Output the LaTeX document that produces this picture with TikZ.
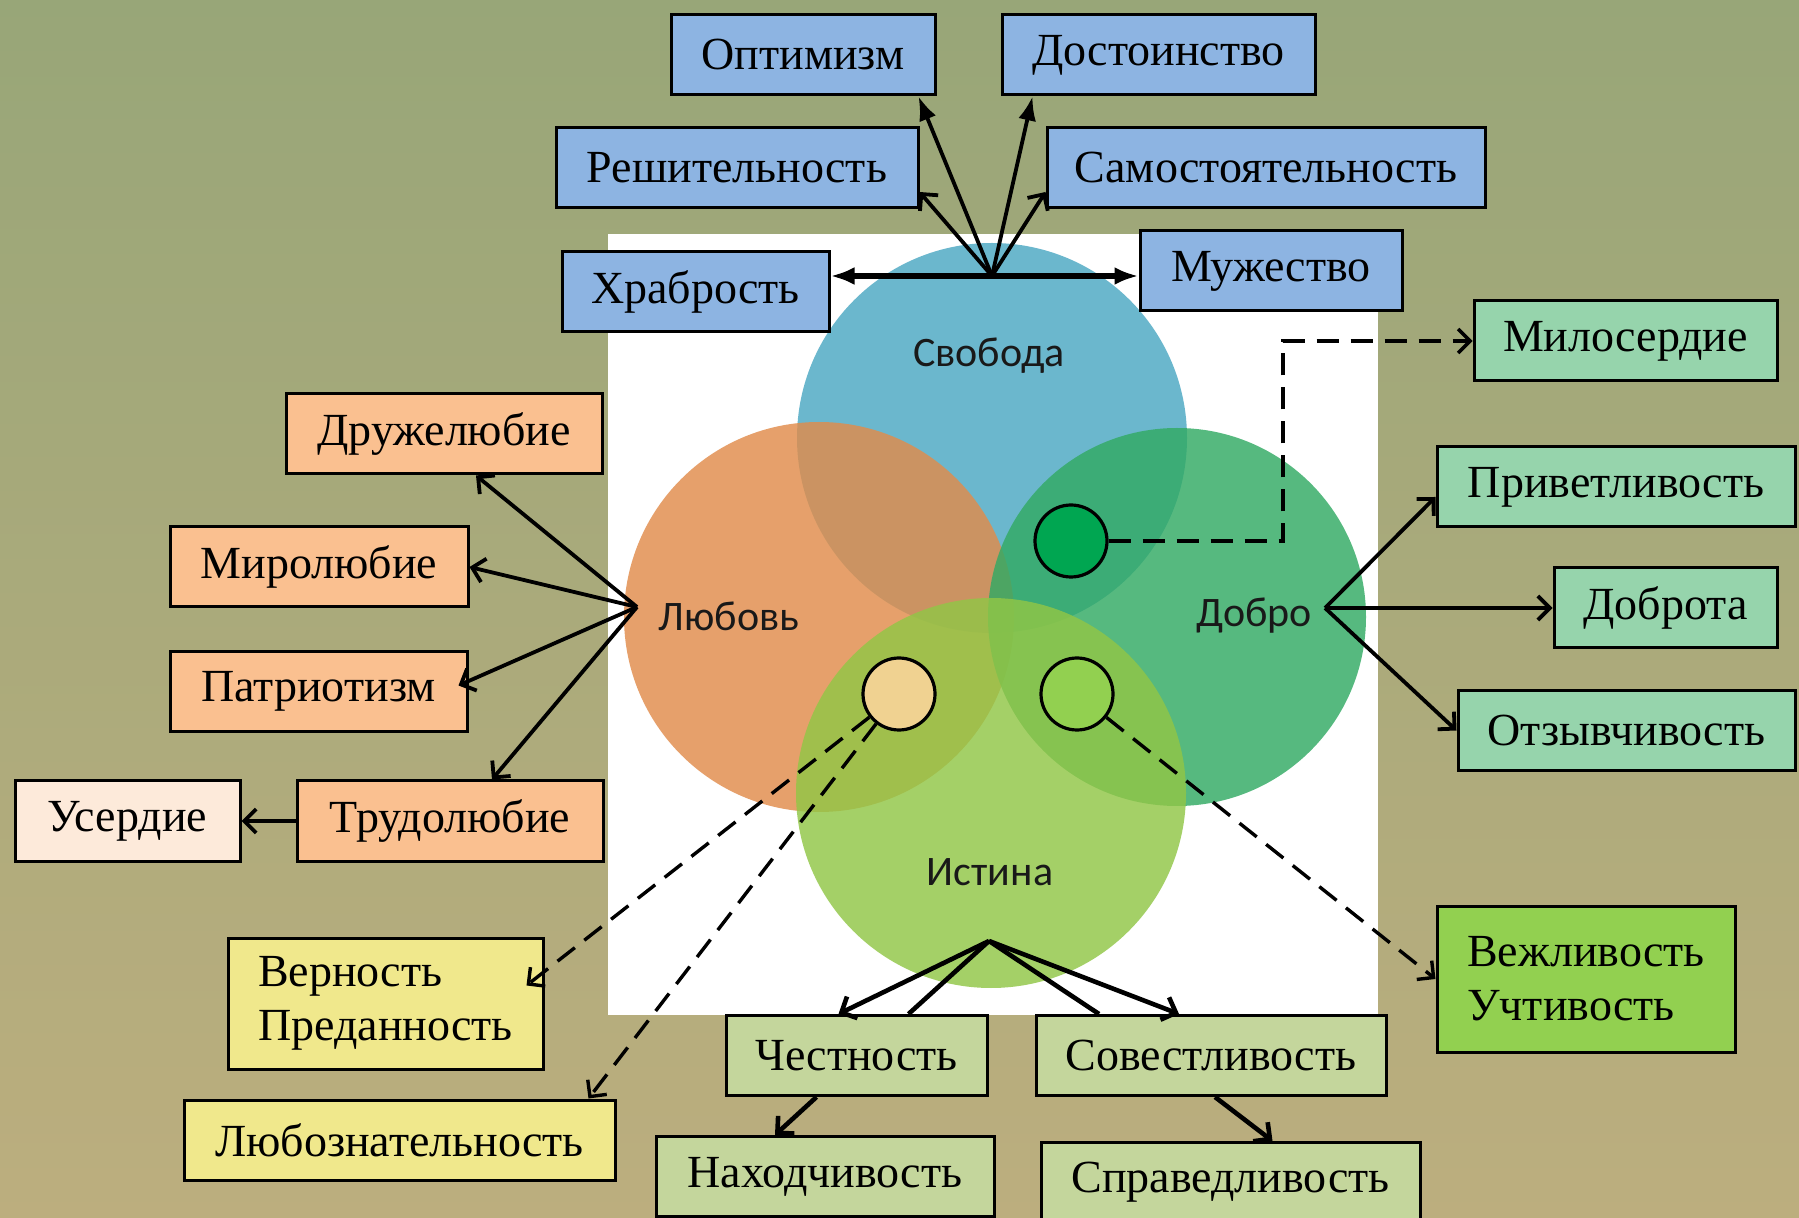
\documentclass[tikz,border=0pt]{standalone}
\usepackage{fontspec}
\setmainfont{Liberation Serif}
\newfontfamily\vennfont{Carlito}
\usetikzlibrary{positioning,arrows.meta}

\definecolor{bgTop}{RGB}{152,166,120}
\definecolor{bgBot}{RGB}{188,174,126}
\definecolor{boxBlue}{RGB}{141,180,226}
\definecolor{boxOrange}{RGB}{250,192,144}
\definecolor{boxPeach}{RGB}{253,234,218}
\definecolor{boxMint}{RGB}{150,212,172}
\definecolor{boxLime}{RGB}{146,208,80}
\definecolor{boxYellow}{RGB}{240,232,140}
\definecolor{boxSage}{RGB}{196,214,156}
\definecolor{vennBlue}{RGB}{75,168,195}
\definecolor{vennOrange}{RGB}{225,140,75}
\definecolor{vennGreen}{RGB}{50,170,100}
\definecolor{vennLime}{RGB}{145,198,70}
\definecolor{dotDark}{RGB}{0,166,81}
\definecolor{dotTan}{RGB}{240,210,145}
\definecolor{dotLime}{RGB}{146,208,80}

\begin{document}
\begin{tikzpicture}[x=0.5pt, y=-0.5pt, node distance=1mm,
  box/.style={draw, line width=1.5pt, inner sep=0pt, minimum height=40pt,
    font=\fontsize{23}{27}\selectfont},
  venn/.style={circle, inner sep=0pt, minimum size=195pt, fill opacity=0.82},
  vennlabel/.style={font=\vennfont\fontsize{21}{25}\selectfont, text=black!90},
  venndot/.style={circle, draw, line width=1.6pt, minimum size=36pt, inner sep=0pt},
  arr/.style={-{Straight Barb[length=6pt,width=12pt]}, line width=1.9pt},
  arrf/.style={-{Latex[length=12pt,width=9pt]}, line width=1.9pt},
  dasharr/.style={arr, line width=1.7pt, dash pattern=on 11pt off 6pt}]
  \useasboundingbox (0,0) rectangle (1799,1218);
  \shade[top color=bgTop, bottom color=bgBot] (0,0) rectangle (1799,1218);
  \fill[white] (608,234) rectangle (1378,1015);

  % the four circles
  \node[venn, fill=vennBlue] (svoboda) at (992,438) {};
  \node[venn, fill=vennOrange] (lyubov) at (819,617) {};
  \node[venn, fill=vennGreen, minimum size=189pt] (dobro) at (1177,617) {};
  \node[venn, fill=vennLime] (istina) at (991,793) {};
  \node[vennlabel] (svobodaLbl) at (989,356) {Свобода};
  \node[vennlabel] (lyubovLbl) at (729,616) {Любовь};
  \node[vennlabel] (dobroLbl) at (1254,616) {Добро};
  \node[vennlabel] (istinaLbl) at (990,872) {Истина};
  \node[venndot, fill=dotDark] (dotDobro) at (1071,541) {};
  \node[venndot, fill=dotTan] (dotLyub) at (899,694) {};
  \node[venndot, fill=dotLime] (dotIst) at (1077,694) {};

  \coordinate (hubS) at (992,276);
  \coordinate (hubL) at (637,607);
  \coordinate (hubD) at (1325,608);
  \coordinate (hubI) at (989,941);
  \coordinate (bendM) at (1283,341);

  % Свобода
  \node[box, fill=boxBlue, minimum width=132pt] (opt) at (803,55) {Оптимизм};
  \node[box, fill=boxBlue, minimum width=156.5pt] (dost) at (1158.5,55) {Достоинство};
  \node[box, fill=boxBlue, minimum width=181pt] (resh) at (737,168) {Решительность};
  \node[box, fill=boxBlue, minimum width=219pt] (samo) at (1266,168) {Самостоятельность};
  \node[box, fill=boxBlue, minimum width=133.5pt] (hrab) at (695.5,292) {Храбрость};
  \node[box, fill=boxBlue, minimum width=131pt] (muzh) at (1271,271) {Мужество};

  % Любовь
  \node[box, fill=boxOrange, minimum width=158pt] (druzh) at (444,434) {Дружелюбие};
  \node[box, fill=boxOrange, minimum width=149pt] (mir) at (319,567) {Миролюбие};
  \node[box, fill=boxOrange, minimum width=148.5pt] (patr) at (318.5,691.5) {Патриотизм};
  \node[box, fill=boxOrange, minimum width=153pt] (trud) at (450,821) {Трудолюбие};
  \node[box, fill=boxPeach, minimum width=112.5pt, left=27pt of trud] (userd) {Усердие};

  % Добро
  \node[box, fill=boxMint, minimum width=151.5pt] (mil) at (1625.5,341) {Милосердие};
  \node[box, fill=boxMint, minimum width=179pt] (priv) at (1616,487) {Приветливость};
  \node[box, fill=boxMint, minimum width=111.5pt] (dobrota) at (1665.5,608) {Доброта};
  \node[box, fill=boxMint, minimum width=168.5pt] (otz) at (1626.5,730.5) {Отзывчивость};
  \node[box, fill=boxLime, minimum width=149pt, minimum height=73pt, align=left]
    (vezh) at (1586,979) {Вежливость\\Учтивость};

  % Истина
  \node[box, fill=boxYellow, minimum width=157.5pt, minimum height=65.5pt, align=left]
    (vern) at (385.5,1003.5) {Верность\\Преданность};
  \node[box, fill=boxYellow, minimum width=215.5pt] (lyuboznat) at (399.5,1140) {Любознательность};
  \node[box, fill=boxSage, minimum width=130.5pt] (chest) at (856.5,1055.5) {Честность};
  \node[box, fill=boxSage, minimum width=175pt] (sovest) at (1211,1055.5) {Совестливость};
  \node[box, fill=boxSage, minimum width=169pt] (nahod) at (825,1176.5) {Находчивость};
  \node[box, fill=boxSage, minimum width=189.5pt] (sprav) at (1230.5,1182.5) {Справедливость};

  \draw[arrf, line width=2.8pt] (hubS) -- (hubS -| hrab.east);
  \draw[arrf, line width=2.8pt] (hubS) -- (hubS -| muzh.west);
  \draw[arrf] (hubS) -- ([xshift=-9pt]opt.south east);
  \draw[arrf] (hubS) -- ([xshift=16pt]dost.south west);
  \draw[arr] (hubS) -- ([yshift=-12pt]resh.east);
  \draw[arr] (hubS) -- ([yshift=-12pt]samo.west);

  \draw[arr] (hubL) -- ([xshift=16pt]druzh.south);
  \draw[arr] (hubL) -- (mir.east);
  \draw[arr] (hubL) -- ([xshift=-5pt,yshift=3pt]patr.east);
  \draw[arr] (hubL) -- ([xshift=21pt]trud.north);
  \draw[arr] (trud) -- (userd);

  \draw[arr] (hubD) -- ([yshift=-5pt]priv.west);
  \draw[arr] (hubD) -- (dobrota.west);
  \draw[arr] (hubD) -- (otz.west);
  \draw[dasharr] (dotDobro) -| (bendM) -- (mil.west);

  \draw[arr, line width=2.3pt] (hubI) -- ([xshift=-9pt]chest.north);
  \draw[line width=2.3pt] (hubI) -- ([xshift=26pt]chest.north);
  \draw[line width=2.3pt] (hubI) -- ([xshift=-56pt]sovest.north);
  \draw[arr, line width=2.3pt] (hubI) -- ([xshift=-16pt]sovest.north);
  \draw[arr, line width=2.3pt] ([xshift=-20pt]chest.south) -- ([xshift=-25pt]nahod.north);
  \draw[arr, line width=2.3pt] ([xshift=2pt]sovest.south) -- ([xshift=21pt]sprav.north);

  \draw[dasharr] (dotLyub) -- ([xshift=-9pt,yshift=9pt]vern.east);
  \draw[dasharr] (dotLyub) -- ([xshift=-14pt]lyuboznat.north east);
  \draw[dasharr] (dotIst) -- (vezh.west);
\end{tikzpicture}
\end{document}
